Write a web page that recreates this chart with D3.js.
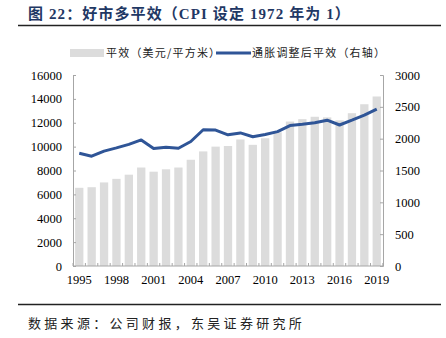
<!DOCTYPE html>
<html>
<head>
<meta charset="utf-8">
<script src="https://cdn.jsdelivr.net/npm/d3@7"></script>
<style>
  body { margin: 0; background: #fff; }
  svg { display: block; }
  .axis path, .axis line { stroke: #a6a6a6; }
  .axis text { font-family: "Liberation Serif", serif; font-size: 12.5px; fill: #000; }
</style>
</head>
<body>
<script>
// years on the x axis
var years = d3.range(1995, 2020)

// 平效 (USD per sq m) - left axis, bars
var salesPerSqm = [6550, 6600, 7000, 7300, 7650, 8250, 7900, 8100, 8250, 8900,
                   9600, 10000, 10050, 10600, 10150, 10700, 11200, 12100, 12300, 12500,
                   12450, 12200, 12800, 13550, 14200]

// inflation adjusted (CPI 1972 = 1) - right axis, line
var realSalesPerSqm = [1770, 1725, 1805, 1855, 1910, 1980, 1845, 1865, 1850, 1955,
                       2140, 2135, 2060, 2090, 2030, 2065, 2110, 2205, 2225, 2250,
                       2290, 2215, 2290, 2370, 2465]

var leftTicks = d3.range(0, 16001, 2000)
var rightTicks = d3.range(0, 3001, 500)
var xLabelYears = years.filter(function(y, i) { return i % 3 == 0 })

var seriesNames = ["平效（美元/平方米）", "通胀调整后平效（右轴）"]
var titleText = "图 22：好市多平效（CPI 设定 1972 年为 1）"
var sourceText = "数据来源：公司财报，东吴证券研究所"

var screen = {width: 446, height: 338}
var plot = {left: 73, right: 383, top: 75, bottom: 266}

var svg = d3.select("body")
  .append("svg")
  .attr("width", screen.width)
  .attr("height", screen.height)

// header
svg.append("text")
  .attr("x", 28)
  .attr("y", 19)
  .style("font-family", "'Liberation Serif', 'Noto Sans CJK SC', serif")
  .style("font-weight", "bold")
  .style("font-size", "15px")
  .style("letter-spacing", "1.1px")
  .style("fill", "#1f3864")
  .text(titleText)

svg.append("line")
  .attr("x1", 18).attr("x2", 441)
  .attr("y1", 25.5).attr("y2", 25.5)
  .attr("stroke", "#222")
  .attr("stroke-width", 1.6)

// scales
var xScale = d3.scaleBand()
  .domain(years)
  .range([plot.left, plot.right])
  .paddingInner(0.33)
  .paddingOuter(0.17)

var yLeft = d3.scaleLinear()
  .domain([0, 16000])
  .range([plot.bottom, plot.top])

var yRight = d3.scaleLinear()
  .domain([0, 3000])
  .range([plot.bottom, plot.top])

// bars
svg.append("g")
  .selectAll("rect")
  .data(salesPerSqm)
  .enter()
  .append("rect")
  .attr("x", function(d, i) { return xScale(years[i]) })
  .attr("width", xScale.bandwidth())
  .attr("y", function(d) { return yLeft(d) })
  .attr("height", function(d) { return yLeft(0) - yLeft(d) })
  .attr("fill", "#dcdcdc")

// axes
svg.append("g")
  .attr("class", "axis")
  .attr("transform", "translate(" + plot.left + ",0)")
  .call(d3.axisLeft(yLeft).tickValues(leftTicks).tickFormat(d3.format("d"))
        .tickSizeInner(-3).tickSizeOuter(-3).tickPadding(11))

svg.append("g")
  .attr("class", "axis")
  .attr("transform", "translate(" + plot.right + ",0)")
  .call(d3.axisRight(yRight).tickValues(rightTicks).tickFormat(d3.format("d"))
        .tickSizeInner(-3).tickSizeOuter(-3).tickPadding(12))

var xAxis = svg.append("g")
  .attr("class", "axis")
  .attr("transform", "translate(0," + plot.bottom + ")")
  .call(d3.axisBottom(xScale).tickValues(xLabelYears).tickSize(0).tickPadding(9))
xAxis.select(".domain").attr("d", "M" + plot.left + ",0H" + plot.right)

// little tick marks between the bars
var step = xScale.step()
xAxis.selectAll("line.sep")
  .data(d3.range(years.length + 1))
  .enter()
  .append("line")
  .attr("class", "sep")
  .attr("x1", function(i) { return plot.left + i * step })
  .attr("x2", function(i) { return plot.left + i * step })
  .attr("y1", 0)
  .attr("y2", -3)

// inflation adjusted line
var line = d3.line()
  .x(function(d, i) { return xScale(years[i]) + xScale.bandwidth() / 2 })
  .y(function(d) { return yRight(d) })

svg.append("path")
  .datum(realSalesPerSqm)
  .attr("d", line)
  .attr("fill", "none")
  .attr("stroke", "#2f5597")
  .attr("stroke-width", 3)
  .attr("stroke-linejoin", "round")

// legend
var legend = svg.append("g")
  .style("font-family", "'Noto Sans CJK SC', sans-serif")
  .style("font-size", "11px")
  .style("fill", "#222")

legend.append("rect")
  .attr("x", 70).attr("y", 49)
  .attr("width", 34).attr("height", 8)
  .attr("fill", "#dcdcdc")

legend.append("text")
  .attr("x", 106).attr("y", 57)
  .style("letter-spacing", "1.2px")
  .text(seriesNames[0])

legend.append("line")
  .attr("x1", 216).attr("x2", 251)
  .attr("y1", 53).attr("y2", 53)
  .attr("stroke", "#2f5597")
  .attr("stroke-width", 3)

legend.append("text")
  .attr("x", 252).attr("y", 57)
  .style("letter-spacing", "1.2px")
  .text(seriesNames[1])

// footer
svg.append("line")
  .attr("x1", 18).attr("x2", 441)
  .attr("y1", 304.5).attr("y2", 304.5)
  .attr("stroke", "#222")
  .attr("stroke-width", 1.4)

svg.append("text")
  .attr("x", 28)
  .attr("y", 328)
  .style("font-family", "'Noto Sans CJK SC', sans-serif")
  .style("font-size", "13px")
  .style("letter-spacing", "3.3px")
  .style("fill", "#222")
  .text(sourceText)
</script>
</body>
</html>
